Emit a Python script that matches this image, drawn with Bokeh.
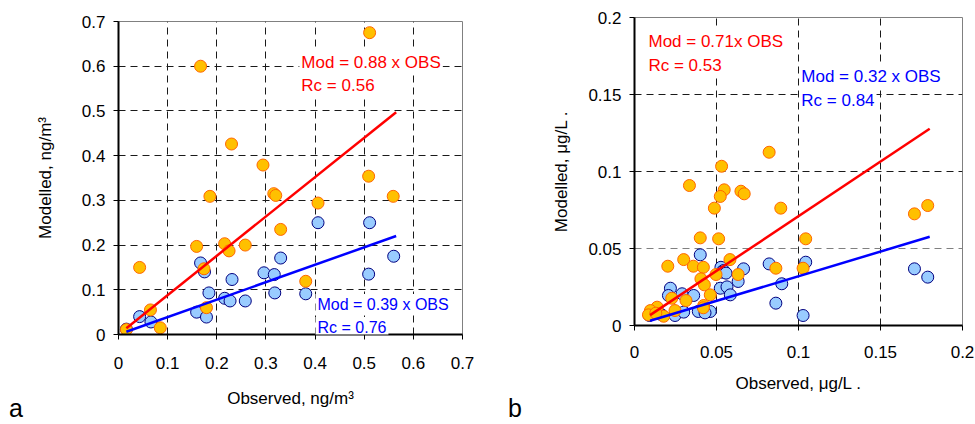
from bokeh.plotting import figure
from bokeh.models import Range1d, FixedTicker, Label, Div, Grid
from bokeh.layouts import row, column
from bokeh.embed import file_html
from bokeh.resources import INLINE

FONT = "Liberation Sans"

# ---------------- Panel a data ----------------
a_ticks = [0, 0.1, 0.2, 0.3, 0.4, 0.5, 0.6, 0.7]
a_tick_labels = ["0", "0.1", "0.2", "0.3", "0.4", "0.5", "0.6", "0.7"]
a_grid = [0.1, 0.2, 0.3, 0.4, 0.5, 0.6]

a_orange_obs = [0.167, 0.511, 0.230, 0.294, 0.509, 0.316, 0.320, 0.186, 0.559, 0.406,
                0.330, 0.159, 0.216, 0.225, 0.258, 0.043, 0.174, 0.381, 0.065, 0.179,
                0.085, 0.016]
a_orange_mod = [0.600, 0.675, 0.426, 0.379, 0.354, 0.315, 0.311, 0.309, 0.309, 0.294,
                0.235, 0.197, 0.203, 0.187, 0.200, 0.150, 0.147, 0.119, 0.055, 0.060,
                0.015, 0.011]
a_blue_obs = [0.406, 0.511, 0.560, 0.330, 0.167, 0.175, 0.296, 0.317, 0.509, 0.231,
              0.184, 0.318, 0.381, 0.216, 0.227, 0.258, 0.159, 0.179, 0.043, 0.066,
              0.016]
a_blue_mod = [0.250, 0.250, 0.175, 0.171, 0.160, 0.140, 0.138, 0.134, 0.135, 0.123,
              0.093, 0.093, 0.091, 0.081, 0.075, 0.075, 0.050, 0.039, 0.040, 0.028,
              0.012]
a_red_slope = 0.88
a_blue_slope = 0.39
a_line_obs = [0.016, 0.565]

# ---------------- Panel b data ----------------
b_ticks = [0, 0.05, 0.1, 0.15, 0.2]
b_tick_labels = ["0", "0.05", "0.1", "0.15", "0.2"]
b_grid_x = [0.05, 0.1, 0.15]
b_grid_y_dark = [0.1, 0.15]
b_grid_y_light = [0.05]

b_orange_obs = [0.0821, 0.0335, 0.0531, 0.0547, 0.0523, 0.0649, 0.0669, 0.0487, 0.0892,
                0.1707, 0.1788, 0.0401, 0.0513, 0.1044, 0.0203, 0.0300, 0.0359, 0.0420,
                0.0582, 0.0632, 0.0497, 0.0862, 0.1028, 0.0405, 0.0426, 0.0462, 0.0314,
                0.0227, 0.0422, 0.0247, 0.0138, 0.0097, 0.0085, 0.0178, 0.0130, 0.0420]
b_orange_mod = [0.1125, 0.0909, 0.1034, 0.0881, 0.0838, 0.0872, 0.0855, 0.0762, 0.0762,
                0.0725, 0.0779, 0.0569, 0.0563, 0.0563, 0.0385, 0.0428, 0.0385, 0.0378,
                0.0428, 0.0331, 0.0331, 0.0372, 0.0372, 0.0303, 0.0264, 0.0199, 0.0162,
                0.0177, 0.0130, 0.0097, 0.0119, 0.0097, 0.0069, 0.0060, 0.0080, 0.0115]
b_blue_obs = [0.0401, 0.0527, 0.0543, 0.0531, 0.0665, 0.0558, 0.0632, 0.0523, 0.0564,
              0.0584, 0.0821, 0.1044, 0.0898, 0.0862, 0.1028, 0.1707, 0.1788, 0.0219,
              0.0207, 0.0290, 0.0361, 0.0247, 0.0389, 0.0462, 0.0430, 0.0300, 0.0166,
              0.0091, 0.0150]
b_blue_mod = [0.0459, 0.0378, 0.0357, 0.0346, 0.0368, 0.0340, 0.0286, 0.0242, 0.0251,
              0.0199, 0.0400, 0.0411, 0.0271, 0.0145, 0.0065, 0.0368, 0.0314, 0.0242,
              0.0195, 0.0206, 0.0195, 0.0065, 0.0091, 0.0091, 0.0082, 0.0087, 0.0069,
              0.0065, 0.0080]
b_red_slope = 0.71
b_blue_slope = 0.32
b_line_obs = [0.0095, 0.18]

ORANGE_FILL = "#FFC000"
ORANGE_LINE = "#FF6600"
BLUE_FILL = "#99CCFF"
BLUE_LINE = "#000080"


def make_panel(width, height, borders, rng, ticks, tick_labels, grid_x, grid_y, xlabel,
               ylabel, x_std, y_std, xlab_std, ylab_std):
    left, right, top, bottom = borders
    p = figure(width=width, height=height, output_backend="svg", toolbar_location=None,
               x_range=Range1d(rng[0], rng[1]), y_range=Range1d(rng[0], rng[1]),
               min_border_left=left, min_border_right=right,
               min_border_top=top, min_border_bottom=bottom)
    p.background_fill_color = "white"
    p.border_fill_color = "white"
    p.outline_line_color = "#808080"
    p.outline_line_width = 1
    for ax in (p.xaxis[0], p.yaxis[0]):
        ax.ticker = FixedTicker(ticks=ticks)
        ax.major_label_overrides = {t: l for t, l in zip(ticks, tick_labels)}
        ax.axis_line_color = "black"
        ax.axis_line_width = 2
        ax.major_tick_line_color = "black"
        ax.major_tick_in = 0
        ax.major_tick_out = 5
        ax.minor_tick_line_color = None
        ax.major_label_text_font = FONT
        ax.major_label_text_font_size = "17px"
        ax.major_label_text_color = "black"
        ax.axis_label_text_font = FONT
        ax.axis_label_text_font_size = "17px"
        ax.axis_label_text_font_style = "normal"
        ax.axis_label_text_color = "black"
    p.xaxis.axis_label = xlabel
    p.yaxis.axis_label = ylabel
    p.xaxis.major_label_standoff = x_std
    p.yaxis.major_label_standoff = y_std
    p.xaxis.axis_label_standoff = xlab_std
    p.yaxis.axis_label_standoff = ylab_std
    for g, gt in ((p.xgrid[0], grid_x), (p.ygrid[0], grid_y)):
        g.ticker = FixedTicker(ticks=gt)
        g.grid_line_color = "#1a1a1a"
        g.grid_line_dash = "7 5"
        g.grid_line_width = 1
    return p


def add_text(p, x, y, text, color, units="data", size="17px"):
    p.add_layout(Label(x=x, y=y, x_units=units, y_units=units, text=text,
                       text_color=color, text_font=FONT, text_font_size=size,
                       text_baseline="middle", text_align="left",
                       background_fill_color="white", padding=2))


def panel_letter(letter, left):
    return Div(text=letter, width=40, height=30, margin=(-27, 0, 0, left),
               styles={"font-family": FONT, "font-size": "25px", "color": "black",
                       "line-height": "30px"})


# ---------------- Panel a ----------------
pa = make_panel(500, 420, (118, 38, 21, 86), (0, 0.7), a_ticks, a_tick_labels, a_grid,
                a_grid, "Observed, ng/m³", "Modelled, ng/m³", 17, 8, 17, 24)
pa.scatter(a_blue_obs, a_blue_mod, size=12, fill_color=BLUE_FILL, line_color=BLUE_LINE,
           line_width=1)
pa.scatter(a_orange_obs, a_orange_mod, size=12, fill_color=ORANGE_FILL,
           line_color=ORANGE_LINE, line_width=1)
pa.line(a_line_obs, [a_red_slope * v for v in a_line_obs], line_color="#FF0000", line_width=2.5)
pa.line(a_line_obs, [a_blue_slope * v for v in a_line_obs], line_color="#0000FF", line_width=2.5)

add_text(pa, 0.368, 0.609, "Mod = 0.88 x OBS", "#FF0000")
add_text(pa, 0.368, 0.556, "Rc = 0.56", "#FF0000")
add_text(pa, 315, 304, "Mod = 0.39 x OBS", "#0000FF", units="canvas", size="16px")
add_text(pa, 315, 327, "Rc = 0.76", "#0000FF", units="canvas", size="16px")

# ---------------- Panel b ----------------
pb = make_panel(475, 420, (134, 13, 17, 95), (0, 0.2), b_ticks, b_tick_labels, b_grid_x,
                b_grid_y_dark, "Observed, μg/L .", "Modelled, μg/L .", 15, 8, 13, 14)
pb.add_layout(Grid(dimension=1, ticker=FixedTicker(ticks=b_grid_y_light),
                   grid_line_color="#808080", grid_line_dash="7 5", grid_line_width=1))
pb.scatter(b_blue_obs, b_blue_mod, size=12, fill_color=BLUE_FILL, line_color=BLUE_LINE,
           line_width=1)
pb.scatter(b_orange_obs, b_orange_mod, size=12, fill_color=ORANGE_FILL,
           line_color=ORANGE_LINE, line_width=1)
pb.line(b_line_obs, [b_red_slope * v for v in b_line_obs], line_color="#FF0000", line_width=2.5)
pb.line(b_line_obs, [b_blue_slope * v for v in b_line_obs], line_color="#0000FF", line_width=2.5)

add_text(pb, 0.0073, 0.1846, "Mod = 0.71x OBS", "#FF0000")
add_text(pb, 0.0073, 0.1688, "Rc = 0.53", "#FF0000")
add_text(pb, 0.1005, 0.1617, "Mod = 0.32 x OBS", "#0000FF")
add_text(pb, 0.1005, 0.1461, "Rc = 0.84", "#0000FF")

layout = row(column(pa, panel_letter("a", 9)), column(pb, panel_letter("b", 8)))
open("out.html", "w").write(file_html(layout, INLINE))
